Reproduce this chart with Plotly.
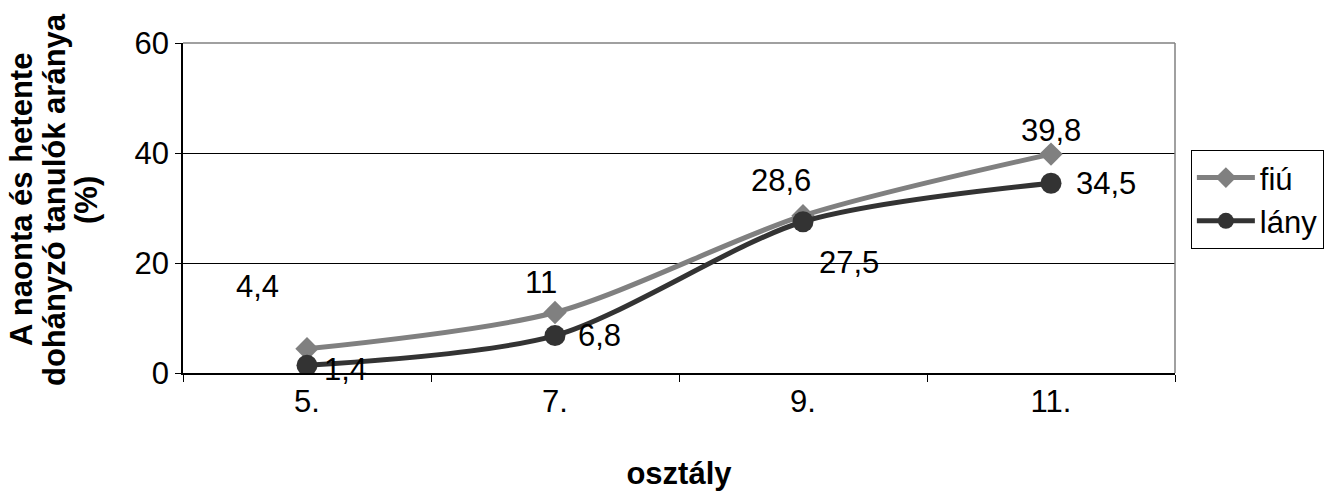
import plotly.graph_objects as go

# Grades (osztály) and share of daily/weekly smokers (%)
grades = ["5.", "7.", "9.", "11."]
boys = [4.4, 11, 28.6, 39.8]    # fiú
girls = [1.4, 6.8, 27.5, 34.5]  # lány

boys_labels = ["4,4", "11", "28,6", "39,8"]
girls_labels = ["1,4", "6,8", "27,5", "34,5"]

# label offsets (pixels) relative to each point
boys_shift = [(-50, 62), (-14, 30), (-22, 35), (0, 24)]
girls_shift = [(38, -4), (44, 0), (46, -41), (55, 0)]

# y-axis title, one entry per line
y_title_lines = ["A naonta és hetente", "dohányzó tanulók aránya", "(%)"]
y_title_x_px = [22, 55, 87]

FONT = "Liberation Sans, Arial, sans-serif"
SIZE = 31
L, R, T, B = 183, 158, 43, 118
W, H = 1333, 491
PLOT_W = W - L - R
PLOT_H = H - T - B

fig = go.Figure()
fig.add_trace(go.Scatter(
    x=grades, y=boys, name="fiú", mode="lines+markers",
    line=dict(color="#808080", width=5, shape="spline", smoothing=0.8),
    marker=dict(symbol="diamond", size=18, color="#808080"),
))
fig.add_trace(go.Scatter(
    x=grades, y=girls, name="lány", mode="lines+markers",
    line=dict(color="#333333", width=5, shape="spline", smoothing=0.8),
    marker=dict(symbol="circle", size=21, color="#333333"),
))

# value labels; category axes position annotations by category index
for ys, labels, shifts in ((boys, boys_labels, boys_shift),
                           (girls, girls_labels, girls_shift)):
    for i, (y, t, (dx, dy)) in enumerate(zip(ys, labels, shifts)):
        fig.add_annotation(
            x=i, y=y, xref="x", yref="y", text=t, showarrow=False,
            xshift=dx, yshift=dy,
            font=dict(family=FONT, size=SIZE, color="black"),
        )

# rotated, tightly spaced y-axis title
for line, px in zip(y_title_lines, y_title_x_px):
    fig.add_annotation(
        x=(px - L) / PLOT_W, y=(H - B - 200) / PLOT_H, xref="paper", yref="paper",
        text=f"<b>{line}</b>", textangle=-90, showarrow=False,
        xanchor="center", yanchor="middle",
        font=dict(family=FONT, size=SIZE, color="black"),
    )

fig.update_layout(
    width=W, height=H,
    margin=dict(l=L, r=R, t=T, b=B, autoexpand=False),
    paper_bgcolor="white", plot_bgcolor="white",
    font=dict(family=FONT, size=SIZE, color="black"),
    showlegend=True,
    legend=dict(
        x=1.016, xanchor="left", y=0.676, yanchor="top",
        bordercolor="black", borderwidth=1, itemwidth=58,
        font=dict(family=FONT, size=SIZE, color="black"),
    ),
    shapes=[
        dict(type="line", xref="paper", yref="paper", x0=0, x1=1, y0=1, y1=1,
             line=dict(color="#808080", width=1.5), layer="above"),
        dict(type="line", xref="paper", yref="paper", x0=1, x1=1, y0=0, y1=1,
             line=dict(color="#808080", width=1.5), layer="above"),
    ],
)

fig.update_xaxes(
    type="category", range=[-0.5, 3.5], automargin=False,
    showline=True, linecolor="black", linewidth=1.5,
    ticks="outside", tickson="boundaries", ticklen=7, tickcolor="black",
    showgrid=False, zeroline=False,
    tickfont=dict(family=FONT, size=SIZE, color="black"),
    title=dict(text="<b>osztály</b>", standoff=46,
               font=dict(family=FONT, size=SIZE, color="black")),
)
fig.update_yaxes(
    range=[0, 60], tickvals=[0, 20, 40, 60], automargin=False,
    showline=True, linecolor="black", linewidth=1.5,
    ticks="outside", ticklen=6, tickcolor="black",
    showgrid=True, gridcolor="black", gridwidth=1, zeroline=False,
    tickfont=dict(family=FONT, size=SIZE, color="black"),
)

fig.write_html("out.html")
